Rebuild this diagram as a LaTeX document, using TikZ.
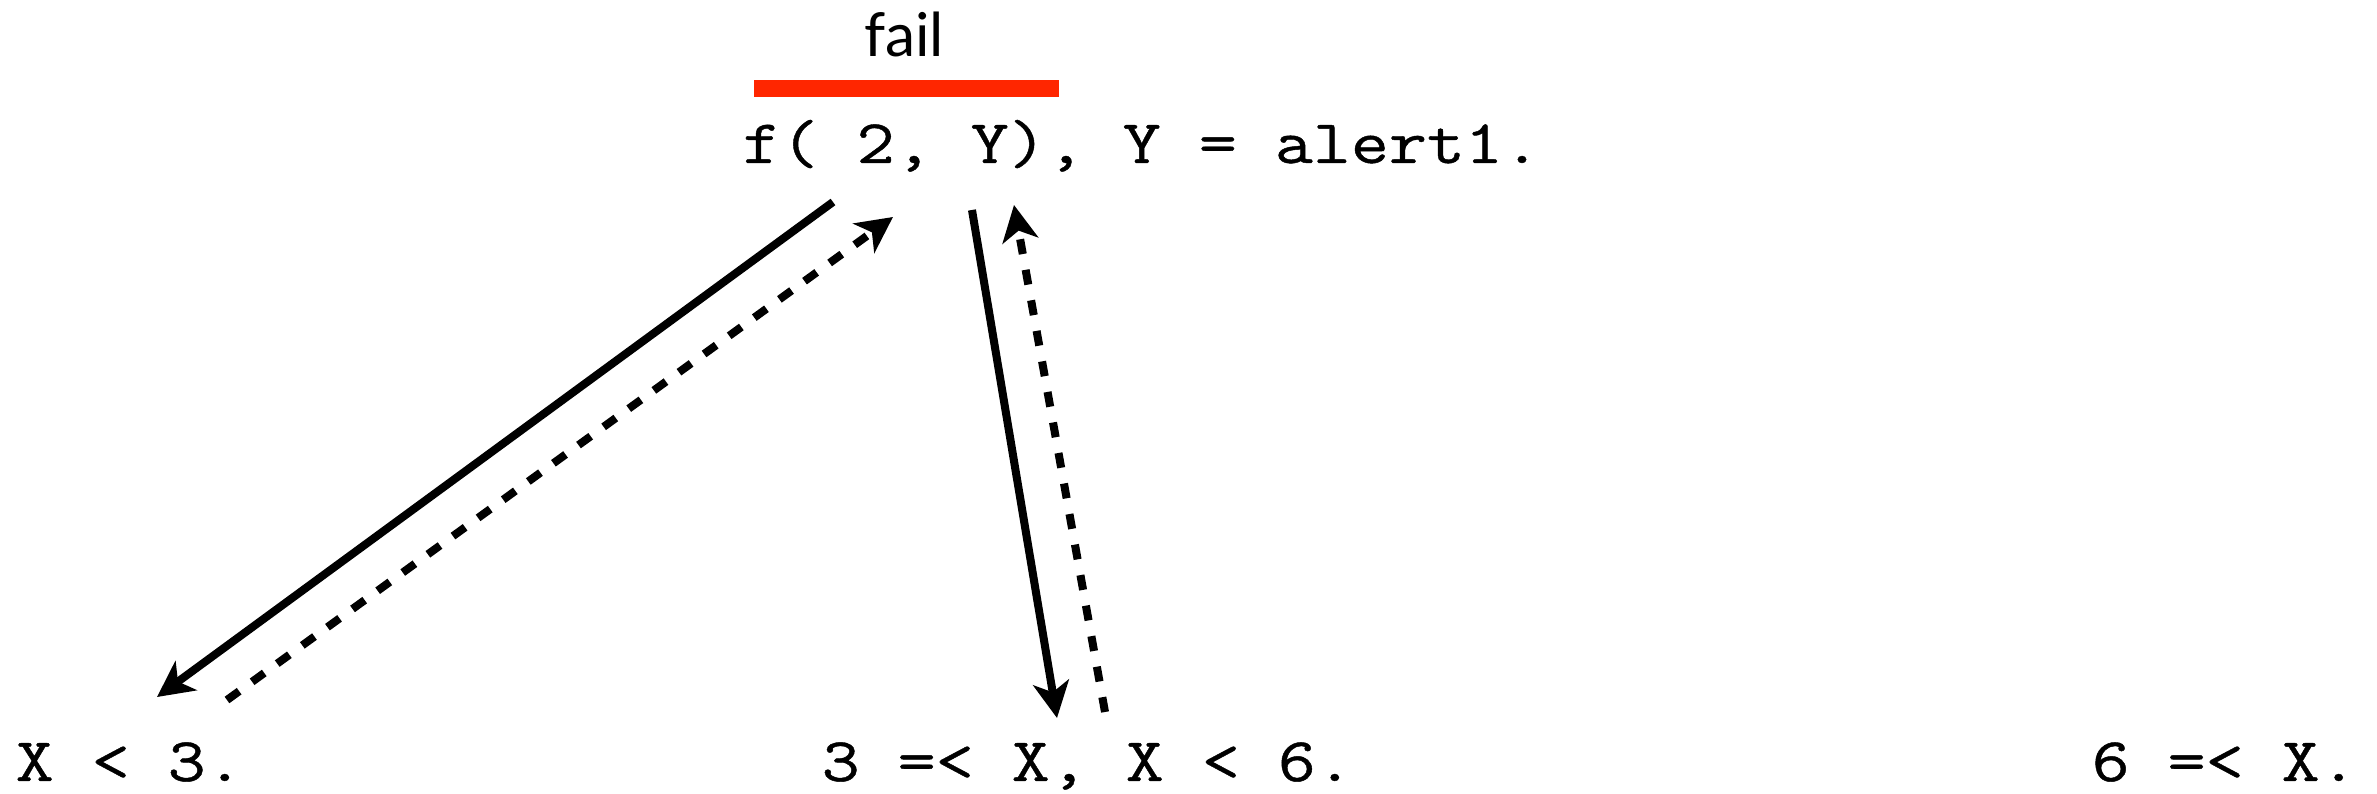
\documentclass[tikz,border=0pt]{standalone}
\usepackage{fontspec}
\newfontfamily\failfont{Lato}
\newfontfamily\codefont{Latin Modern Mono}[FakeStretch=1.19,FakeBold=0.7]
\usetikzlibrary{arrows.meta}
\definecolor{failred}{RGB}{255,38,0}
\tikzset{
  code/.style={anchor=base west, inner sep=0pt, font=\codefont\fontsize{17.64}{22}\selectfont},
  failtxt/.style={anchor=base, inner sep=0pt, font=\failfont\fontsize{17.2}{20}\selectfont},
  failbar/.style={fill=failred, inner sep=0pt, minimum width=3.05cm, minimum height=0.17cm},
  callarrow/.style={line width=0.08cm, -{Stealth[length=0.36cm,width=0.36cm,inset=0.1cm]}},
  retarrow/.style={callarrow, dash pattern=on 0.15cm off 0.16cm}
}
\begin{document}
\begin{tikzpicture}[x=0.01cm,y=-0.01cm]
  \useasboundingbox (0,0) rectangle (2377,794);
  % texts
  \node[code] (goal) at (742,163) {f( 2, Y), Y = alert1.};
  \node[code] (c1) at (15,781) {X < 3.};
  \node[code] (c2) at (821,781) {3 =< X, X < 6.};
  \node[code] (c3) at (2091,781) {6 =< X.};
  \node[failbar] (bar) at (906.5,88.5) {};
  \node[failtxt] (fail) at (904,57) {fail};
  % arrow end points
  \coordinate (a1s) at (833,202);
  \coordinate (a1e) at (157,697);
  \coordinate (d1s) at (227,700);
  \coordinate (d1e) at (893,217);
  \coordinate (a2s) at (972,210);
  \coordinate (a2e) at (1057,718);
  \coordinate (d2s) at (1105,712);
  \coordinate (d2e) at (1014,205);
  % arrows
  \draw[callarrow] (a1s) -- (a1e);
  \draw[retarrow] (d1s) -- (d1e);
  \draw[callarrow] (a2s) -- (a2e);
  \draw[retarrow] (d2s) -- (d2e);
\end{tikzpicture}
\end{document}
